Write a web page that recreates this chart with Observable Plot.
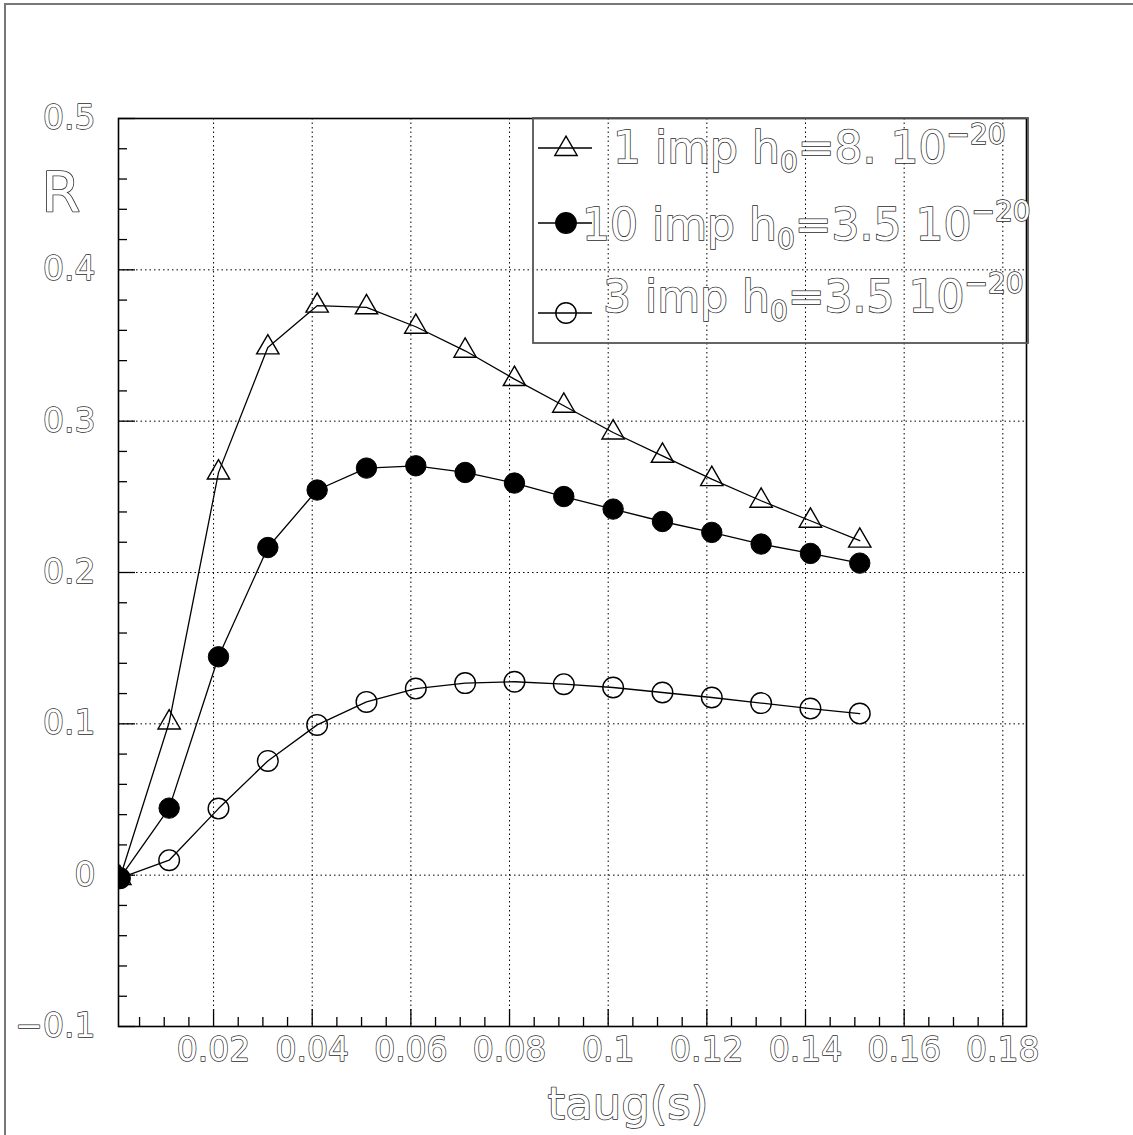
<!DOCTYPE html>
<html>
<head>
<meta charset="utf-8">
<script src="https://cdn.jsdelivr.net/npm/d3@7"></script>
<script src="https://cdn.jsdelivr.net/npm/@observablehq/plot@0.6"></script>
<style>
  body { margin: 0; background: #fff; }
  #chart svg { display: block; }
</style>
</head>
<body>
<div id="chart"></div>
<script>
// ---- data ----
const taug = [0.001, 0.011, 0.021, 0.031, 0.041, 0.051, 0.061, 0.071, 0.081, 0.091, 0.101, 0.111, 0.121, 0.131, 0.141, 0.151];
const r1imp  = [-0.002, 0.1009, 0.266, 0.3487, 0.3763, 0.3752, 0.3624, 0.3465, 0.3278, 0.3102, 0.2925, 0.2771, 0.2617, 0.2474, 0.2342, 0.2210];
const r10imp = [-0.002, 0.0443, 0.1443, 0.2165, 0.2545, 0.2690, 0.2705, 0.2661, 0.2591, 0.2502, 0.2419, 0.2337, 0.2265, 0.2188, 0.2126, 0.2062];
const r3imp  = [-0.002, 0.0099, 0.0440, 0.0755, 0.0993, 0.1145, 0.1233, 0.1269, 0.1278, 0.1262, 0.1240, 0.1207, 0.1174, 0.1137, 0.1101, 0.1068];

const seriesNames = ["1 imp", "10 imp", "3 imp"];
const legendMain = ["1 imp h", "10 imp h", "3 imp h"];
const legendAfterSub = ["=8. 10", "=3.5 10", "=3.5 10"];
const legendSub = "0";
const legendSup = "\u221220";

const xMajorTicks = [0.02, 0.04, 0.06, 0.08, 0.10, 0.12, 0.14, 0.16, 0.18];
const yMajorTicks = [-0.1, 0, 0.1, 0.2, 0.3, 0.4, 0.5];
const yGridTicks  = [0, 0.1, 0.2, 0.3, 0.4];
const xMinorTicks = d3.range(1, 37).map(i => +(i * 0.005).toFixed(3)).filter(v => Math.abs(v * 50 - Math.round(v * 50)) > 1e-6);
const yMinorTicks = d3.range(-5, 26).map(i => +(i * 0.02).toFixed(2)).filter(v => Math.abs(v * 10 - Math.round(v * 10)) > 1e-6);

const rows = [
  ...taug.map((x, i) => ({series: seriesNames[0], x, y: r1imp[i]})),
  ...taug.map((x, i) => ({series: seriesNames[1], x, y: r10imp[i]})),
  ...taug.map((x, i) => ({series: seriesNames[2], x, y: r3imp[i]}))
];

const fmt = d => (Math.abs(d) < 1e-9 ? "0" : String(+d.toFixed(2))).replace("-", "\u2212");
const FONT = "DejaVu Sans";
const TXT = "#2b2b2b";
const gridStyle = {stroke: "#000", strokeOpacity: 1, strokeWidth: 1, strokeDasharray: "1.5,3"};

const chart = Plot.plot({
  width: 1133,
  height: 1135,
  marginLeft: 118,
  marginRight: 107,
  marginTop: 118,
  marginBottom: 109,
  style: {fontFamily: FONT, background: "#fff"},
  x: {domain: [0.00073, 0.1848], axis: null},
  y: {domain: [-0.1, 0.5], axis: null},
  marks: [
    Plot.gridX(xMajorTicks, gridStyle),
    Plot.gridY(yGridTicks, gridStyle),
    Plot.line(rows, {x: "x", y: "y", z: "series", stroke: "#000", strokeWidth: 1.3, clip: true}),
    Plot.dot(rows.filter(d => d.series === seriesNames[0]), {x: "x", y: "y", symbol: "triangle", r: 8.3, fill: "none", stroke: "#000", strokeWidth: 1.4, clip: true}),
    Plot.dot(rows.filter(d => d.series === seriesNames[1]), {x: "x", y: "y", r: 10.2, fill: "#000", stroke: "#000", strokeWidth: 1, clip: true}),
    Plot.dot(rows.filter(d => d.series === seriesNames[2]), {x: "x", y: "y", r: 10.3, fill: "none", stroke: "#000", strokeWidth: 1.4, clip: true}),
    // inward ticks
    Plot.axisX(xMajorTicks, {anchor: "bottom", tickSize: -17, tickFormat: () => "", strokeWidth: 1.3, label: null}),
    Plot.axisX(xMinorTicks, {anchor: "bottom", tickSize: -9, tickFormat: () => "", strokeWidth: 1.3, label: null}),
    Plot.axisY(yMajorTicks, {anchor: "left", tickSize: -17, tickFormat: () => "", strokeWidth: 1.3, label: null}),
    Plot.axisY(yMinorTicks, {anchor: "left", tickSize: -9, tickFormat: () => "", strokeWidth: 1.3, label: null}),
    // tick labels (outlined glyphs, like the stroke font of the original)
    Plot.axisX(xMajorTicks, {anchor: "bottom", tickSize: 0, tickPadding: 11, tickFormat: fmt, fontSize: 33, fill: "#fff", textStroke: TXT, textStrokeWidth: 1.4, label: null}),
    Plot.axisY(yMajorTicks, {anchor: "left", tickSize: 0, tickPadding: 23, tickFormat: fmt, fontSize: 33, fill: "#fff", textStroke: TXT, textStrokeWidth: 1.4, label: null}),
    Plot.frame({stroke: "#000", strokeWidth: 1.6}),
    // axis titles
    Plot.text(["taug(s)"], {frameAnchor: "bottom-left", dx: 429, dy: 92, text: d => d, textAnchor: "start", lineAnchor: "bottom", fontSize: 45, fill: "#fff", stroke: TXT, strokeWidth: 1.5}),
    Plot.text(["R"], {frameAnchor: "top-left", dx: -77, dy: 92, text: d => d, textAnchor: "start", lineAnchor: "bottom", fontSize: 56, fill: "#fff", stroke: TXT, strokeWidth: 1.6})
  ]
});

document.getElementById("chart").appendChild(chart);

// ---- legend and outer border ----
const svg = d3.select(chart);
svg.append("rect")
  .attr("x", 5).attr("y", 4).attr("width", 1200).attr("height", 1200)
  .attr("fill", "none").attr("stroke", "#777").attr("stroke-width", 2);

const lg = svg.append("g").attr("font-family", FONT).attr("text-anchor", "start");
lg.append("rect")
  .attr("x", 533).attr("y", 118).attr("width", 495).attr("height", 225)
  .attr("fill", "none").attr("stroke", "#555").attr("stroke-width", 1.8);

const legendLineY = [148, 223, 313];
const legendTextX = [613, 582, 603];
const legendBaseline = [163, 240, 312];
const symbols = ["triangle", "filled", "open"];

legendLineY.forEach((ly, i) => {
  lg.append("line").attr("x1", 538).attr("x2", 592).attr("y1", ly).attr("y2", ly)
    .attr("stroke", "#000").attr("stroke-width", 1.3);
  if (symbols[i] === "triangle") {
    lg.append("path").attr("d", d3.symbol(d3.symbolTriangle, 8.3 * 8.3 * Math.PI)())
      .attr("transform", `translate(566,${ly + 1})`)
      .attr("fill", "none").attr("stroke", "#000").attr("stroke-width", 1.4);
  } else {
    lg.append("circle").attr("cx", 566).attr("cy", ly).attr("r", 10.2)
      .attr("fill", symbols[i] === "filled" ? "#000" : "none")
      .attr("stroke", "#000").attr("stroke-width", 1.4);
  }
  const t = lg.append("text").attr("x", legendTextX[i]).attr("y", legendBaseline[i])
    .attr("text-anchor", "start")
    .attr("font-size", 44).attr("fill", "#fff").attr("stroke", TXT)
    .attr("stroke-width", 1.5).attr("paint-order", "stroke");
  t.append("tspan").text(legendMain[i]);
  t.append("tspan").attr("font-size", 28).attr("dy", 9).text(legendSub);
  t.append("tspan").attr("dy", -9).text(legendAfterSub[i]);
  t.append("tspan").attr("font-size", 28).attr("dy", -19).text(legendSup);
});
</script>
</body>
</html>
